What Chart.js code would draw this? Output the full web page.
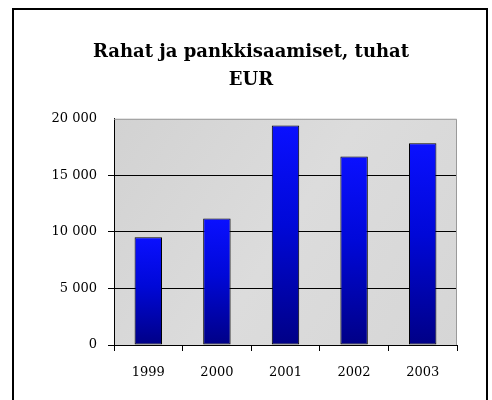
<!DOCTYPE html>
<html>
<head>
<meta charset="utf-8">
<script src="https://cdn.jsdelivr.net/npm/chart.js@4/dist/chart.umd.min.js"></script>
<style>
	html, body { margin: 0; padding: 0; background: #fff; }
	canvas { display: block; }
</style>
</head>
<body>
<canvas id="chart" width="492" height="400"></canvas>
<script>
const years = ['1999', '2000', '2001', '2002', '2003'];
const amounts = [9520, 11180, 19400, 16670, 17830];
const yTickLabels = ['0', '5 000', '10 000', '15 000', '20 000'];
const titleLines = ['Rahat ja pankkisaamiset, tuhat', 'EUR'];

const serif = '"DejaVu Serif", "Liberation Serif", serif';

// Frame round the whole picture and the grey plot backdrop.
const backdrop = {
	id: 'backdrop',
	beforeDraw(chart) {
		const { ctx, chartArea: a } = chart;
		ctx.save();
		ctx.strokeStyle = '#000';
		ctx.lineWidth = 2;
		ctx.strokeRect(13, 9, 474, 430);
		const g = ctx.createLinearGradient(a.left, a.top, a.right, a.bottom);
		g.addColorStop(0, '#d2d2d2');
		g.addColorStop(0.5, '#dcdcdc');
		g.addColorStop(1, '#d6d6d6');
		ctx.fillStyle = g;
		ctx.fillRect(a.left, a.top, a.right - a.left, a.bottom - a.top);
		ctx.restore();
	},
	afterDatasetsDraw(chart) {
		const { ctx, chartArea: a } = chart;
		ctx.save();
		ctx.strokeStyle = '#9a9a9a';
		ctx.lineWidth = 1;
		ctx.beginPath();
		ctx.moveTo(a.left, a.top + 0.5);
		ctx.lineTo(a.right - 0.5, a.top + 0.5);
		ctx.lineTo(a.right - 0.5, a.bottom);
		ctx.stroke();
		ctx.restore();
	},
};

function barFill(context) {
	const chart = context.chart;
	const yScale = chart.scales.y;
	if (!chart.chartArea || context.parsed == null) return '#0000c0';
	const top = yScale.getPixelForValue(context.parsed.y);
	const bottom = yScale.getPixelForValue(0);
	const g = chart.ctx.createLinearGradient(0, top, 0, bottom);
	g.addColorStop(0, '#0a10ff');
	g.addColorStop(0.45, '#0008d8');
	g.addColorStop(1, '#000086');
	return g;
}

new Chart(document.getElementById('chart'), {
	type: 'bar',
	data: {
		labels: years,
		datasets: [
			{
				data: amounts,
				backgroundColor: barFill,
				borderColor: '#000',
				borderWidth: 1,
				borderSkipped: false,
				categoryPercentage: 0.8,
				barPercentage: 0.5,
			},
		],
	},
	plugins: [backdrop],
	options: {
		responsive: false,
		animation: false,
		devicePixelRatio: 1,
		layout: { padding: { left: 10, right: 0, top: 0, bottom: 0 } },
		plugins: {
			legend: { display: false },
			tooltip: { enabled: false },
			title: {
				display: true,
				text: titleLines,
				color: '#000',
				font: { family: serif, size: 18, weight: 'bold', lineHeight: 1.55 },
				padding: { top: 38, bottom: 25 },
			},
		},
		scales: {
			x: {
				afterFit: (scale) => { scale.height = 55; },
				grid: {
					drawOnChartArea: false,
					drawTicks: true,
					tickLength: 6,
					color: '#000',
				},
				border: { color: '#000', width: 1 },
				ticks: {
					color: '#000',
					padding: 14,
					font: { family: serif, size: 13 },
				},
			},
			y: {
				min: 0,
				max: 20000,
				afterFit: (scale) => { scale.width = 104; },
				grid: {
					tickLength: 6,
					color: (c) => (c.tick && c.tick.value === 20000 ? 'rgba(0,0,0,0)' : '#000'),
				},
				border: { color: '#000', width: 1 },
				ticks: {
					stepSize: 5000,
					color: '#000',
					padding: 11,
					font: { family: serif, size: 13 },
					callback: (value, index) => yTickLabels[index],
				},
			},
			// empty right margin so the title stays centred on the frame
			spacer: {
				type: 'linear',
				position: 'right',
				min: 0,
				max: 1,
				afterFit: (scale) => { scale.width = 35; },
				grid: { display: false },
				border: { display: false },
				ticks: { display: false },
			},
		},
	},
});
</script>
</body>
</html>
